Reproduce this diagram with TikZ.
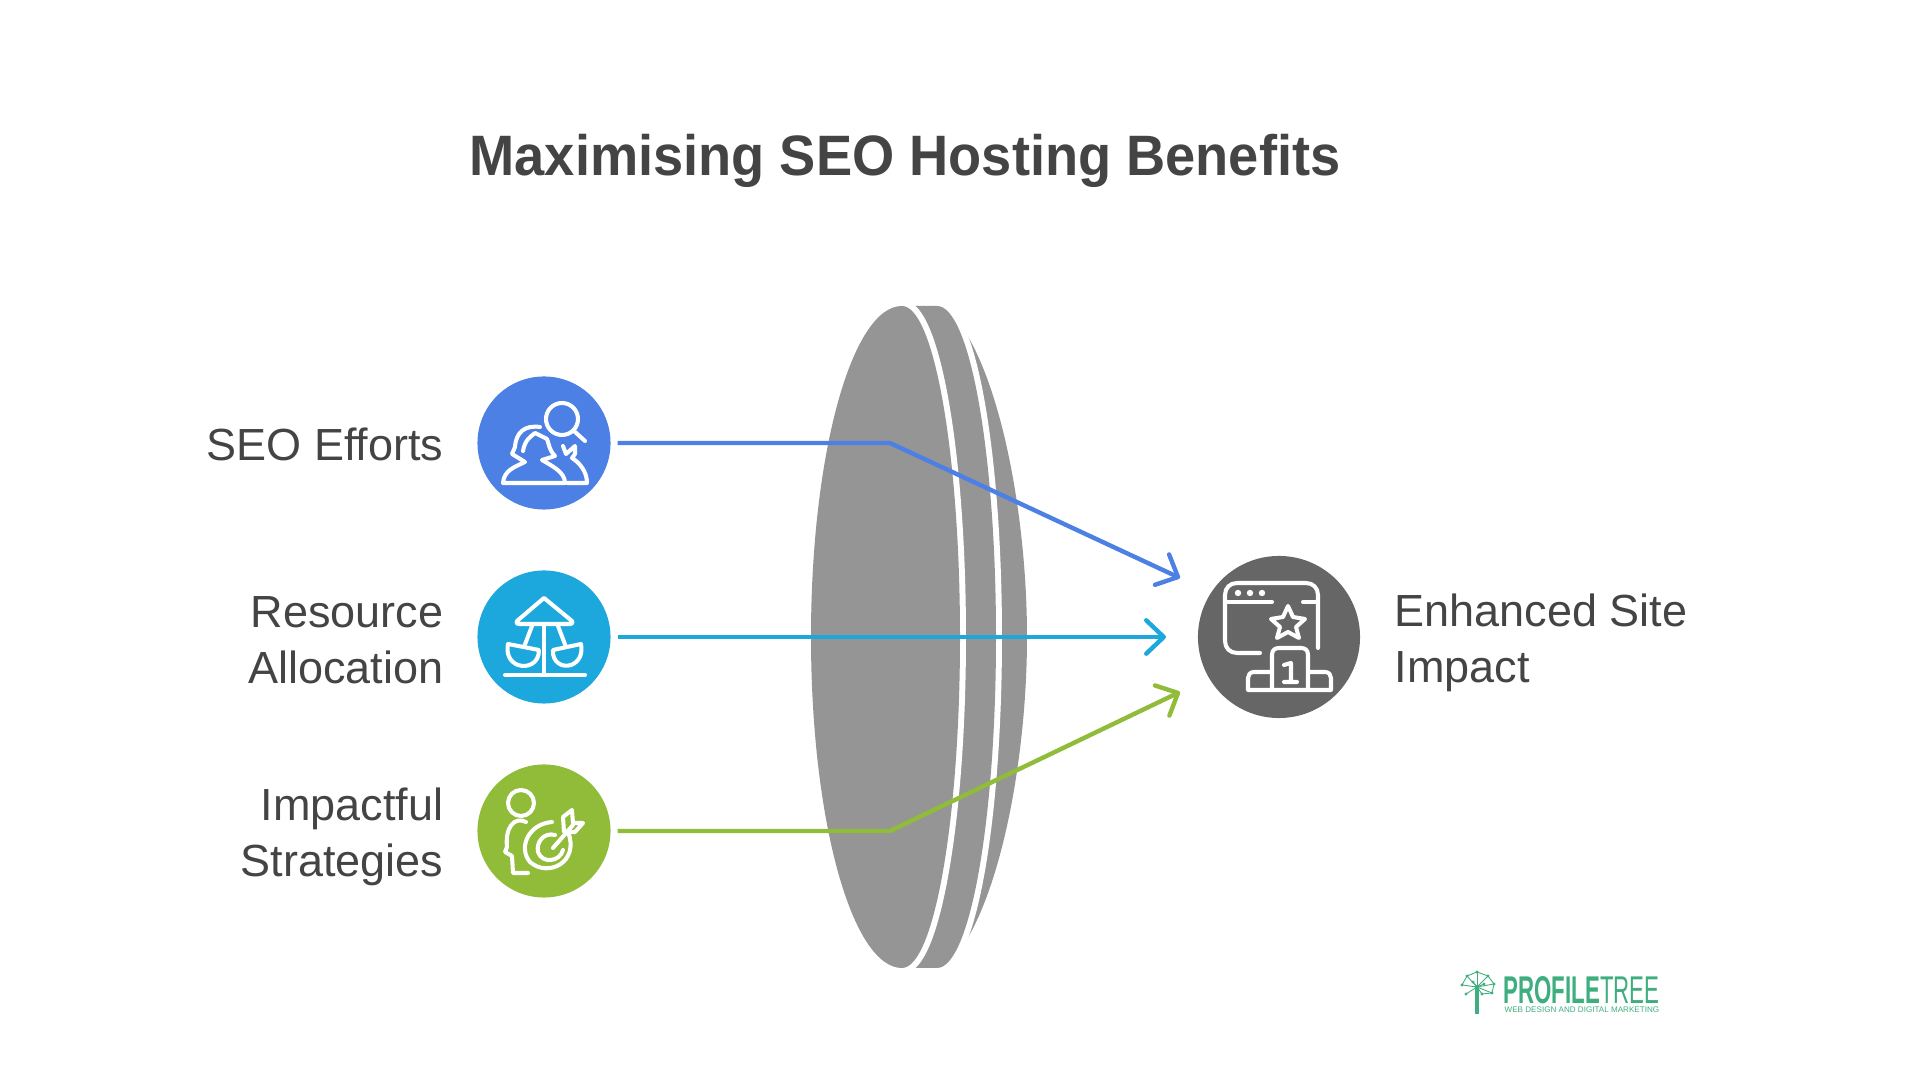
\documentclass[tikz,border=0pt]{standalone}
\usepackage{fontspec}
\setmainfont{Liberation Sans}
\usetikzlibrary{arrows.meta}
\definecolor{lensgray}{HTML}{959595}
\definecolor{textgray}{HTML}{444444}
\definecolor{seoblue}{HTML}{4C80E4}
\definecolor{resteal}{HTML}{1CA8DC}
\definecolor{impgreen}{HTML}{90BC3A}
\definecolor{sitegray}{HTML}{666666}
\definecolor{treegreen}{HTML}{3FAE7E}
\tikzset{
    lensband/.style={fill=lensgray, preaction={draw=white, line width=3.4pt}},
    iconcircle/.style={circle, minimum size=1.33*1cm, inner sep=0pt, outer sep=2pt},
    iconline/.style={white, line width=1.15pt, line cap=round, line join=round},
    label/.style={font=\fontsize{12.8}{16}\selectfont, text=textgray, inner sep=0pt},
    linkline/.style={line width=1.25pt, line join=round, -{Straight Barb[length=5pt,width=9.5pt,round]}}
}
\begin{document}
\begin{tikzpicture}[x=0.01cm,y=-0.01cm]
    \useasboundingbox (0,0) rectangle (1920,1080);
    \node[font=\bfseries\fontsize{16.2}{20}\selectfont, text=textgray, inner sep=0pt] (title) at (905,161)
        {\scalebox{0.952}[1]{Maximising SEO Hosting Benefits}};
    % lens
    \path[fill=lensgray] (966,333) .. controls (1005,398) and (1027,527) .. (1027,637)
        .. controls (1027,747) and (1005,876) .. (966,941) -- cycle;
    \path[lensband] (902,306) -- (937,306) .. controls (970,306) and (996,454) .. (996,637)
        .. controls (996,820) and (970,968) .. (937,968) -- (902,968) -- cycle;
    \path[lensband] (902,306) .. controls (852,306) and (811,454) .. (811,637)
        .. controls (811,820) and (852,968) .. (902,968)
        .. controls (934,968) and (960,820) .. (960,637)
        .. controls (960,454) and (934,306) .. (902,306) -- cycle;
    % circles
    \node[iconcircle, fill=seoblue] (seo) at (544,443) {};
    \node[iconcircle, fill=resteal] (resource) at (544,637) {};
    \node[iconcircle, fill=impgreen] (impact) at (544,831) {};
    \node[iconcircle, fill=sitegray, minimum size=1.62*1cm, outer sep=0pt] (site) at (1279,637) {};
    % labels
    \node[label, anchor=east] (seolabel) at (444,444) {SEO Efforts};
    \node[label, anchor=east, align=right] (reslabel) at (444,640) {Resource\\Allocation};
    \node[label, anchor=east, align=right] (implabel) at (444,837) {Impactful\\Strategies};
    \node[label, anchor=west, align=left] (sitelabel) at (1394,643) {Enhanced Site\\Impact};
    % connectors
    \coordinate (seobend) at (890,443);
    \coordinate (impbend) at (890,831);
    \coordinate (seotip) at (1180,578);
    \coordinate (restip) at (1166,637);
    \coordinate (imptip) at (1180,692);
    \draw[linkline, seoblue] (seo.east) -- (seobend) -- (seotip);
    \draw[linkline, resteal] (resource.east) -- (restip);
    \draw[linkline, impgreen] (impact.east) -- (impbend) -- (imptip);
    % people and magnifier
    \draw[iconline] (562,419) circle (16);
    \draw[iconline] (574,431) -- (585,441);
    \draw[iconline] (540,427) .. controls (525,425) and (516,432) .. (515,447) -- (512,454) -- (525,462)
        .. controls (515,467) and (504,470) .. (503,483) -- (565,483)
        .. controls (565,472) and (552,466) .. (542,460) -- (555,456)
        .. controls (549,450) and (549,444) .. (547,439) -- (535,433)
        .. controls (530,437) and (525,440) .. (523,451);
    \draw[iconline] (563,446) -- (566,454) -- (575,446) -- (575,454) -- (572,458)
        .. controls (580,463) and (587,472) .. (587,483) -- (567,483);
    % swing ride
    \draw[iconline] (544,598) -- (572,621) .. controls (574,623) and (572,624) .. (570,624) -- (519,624)
        .. controls (517,624) and (515,623) .. (517,621) -- cycle;
    \draw[iconline] (544,624) -- (544,675) (505,675) -- (585,675);
    \draw[iconline] (532,626) -- (524,647) (558,626) -- (566,647);
    \draw[iconline] (508,644) -- (539,650) .. controls (539,664) and (527,668) .. (518,665)
        .. controls (510,662) and (506,654) .. (508,644) -- cycle;
    \draw[iconline] (581,644) -- (553,650) .. controls (552,662) and (562,668) .. (571,665)
        .. controls (579,662) and (583,654) .. (581,644) -- cycle;
    % person and target
    \begin{scope}[shift={(0,2)}]
        \draw[iconline] (521,801) circle (13);
        \draw[iconline] (526,820) .. controls (514,814) and (505,826) .. (507,845) -- (505,850)
            -- (512,854) -- (513,871) -- (528,871);
        \draw[iconline] (568,830) .. controls (580,860) and (548,876) .. (530,860)
            .. controls (518,846) and (528,822) .. (552,820);
        \draw[iconline] (555,833) .. controls (544,830) and (536,840) .. (538,850)
            .. controls (542,862) and (560,860) .. (563,848);
        \draw[iconline] (553,846) -- (573,823);
        \draw[iconline] (563,815) -- (572,808) -- (573,821) -- (583,821) -- (575,830) -- (564,830) -- cycle;
    \end{scope}
    % window and podium
    \draw[iconline] (1260,653) -- (1237,653) .. controls (1230,653) and (1225,648) .. (1225,641) -- (1225,595)
        .. controls (1225,588) and (1230,583) .. (1237,583) -- (1306,583)
        .. controls (1313,583) and (1318,588) .. (1318,595) -- (1318,648);
    \draw[iconline] (1227,602) -- (1272,602) (1303,602) -- (1317,602);
    \foreach \x in {1238,1250,1262}
    {
        \fill[white] (\x,593) circle (3.2);
    }
    \draw[iconline] (1288,606) -- (1293,617) -- (1305,619) -- (1296,627) -- (1299,638) -- (1288,632)
        -- (1277,638) -- (1280,627) -- (1271,619) -- (1283,617) -- cycle;
    \draw[iconline] (1272,690) -- (1272,655) .. controls (1272,650) and (1275,648) .. (1279,648) -- (1301,648)
        .. controls (1305,648) and (1308,650) .. (1308,655) -- (1308,690);
    \draw[iconline] (1272,672) -- (1254,672) .. controls (1250,672) and (1248,675) .. (1248,678) -- (1248,690)
        -- (1331,690) -- (1331,678) .. controls (1331,675) and (1329,672) .. (1325,672) -- (1308,672);
    \draw[iconline] (1284,665) -- (1291,663) -- (1291,682) (1284,682) -- (1297,682);
    % logo
    \draw[treegreen, line width=1.1pt] (1477,1014) -- (1477,985);
    \foreach \x/\y in {1462/985,1467/976,1477/972,1488/976,1494/984,1492/993,1482/994,1466/994,1473/982,1484/984}
    {
        \draw[treegreen, line width=0.25pt] (1477,987) -- (\x,\y);
        \fill[treegreen] (\x,\y) circle (1.7);
    }
    \draw[treegreen, line width=0.25pt] (1462,985) -- (1467,976) -- (1477,972) -- (1488,976) -- (1494,984) -- (1492,993) -- (1482,994);
    \node[anchor=west, inner sep=0pt, text=treegreen, font=\fontsize{11}{12}\selectfont] (logoname) at (1503,990)
        {\scalebox{0.575}[1]{\textbf{PROFILE}TREE}};
    \node[anchor=west, inner sep=0pt, text=treegreen, font=\fontsize{2.3}{4}\selectfont] (logotag) at (1504,1010)
        {WEB DESIGN AND DIGITAL MARKETING};
\end{tikzpicture}
\end{document}
